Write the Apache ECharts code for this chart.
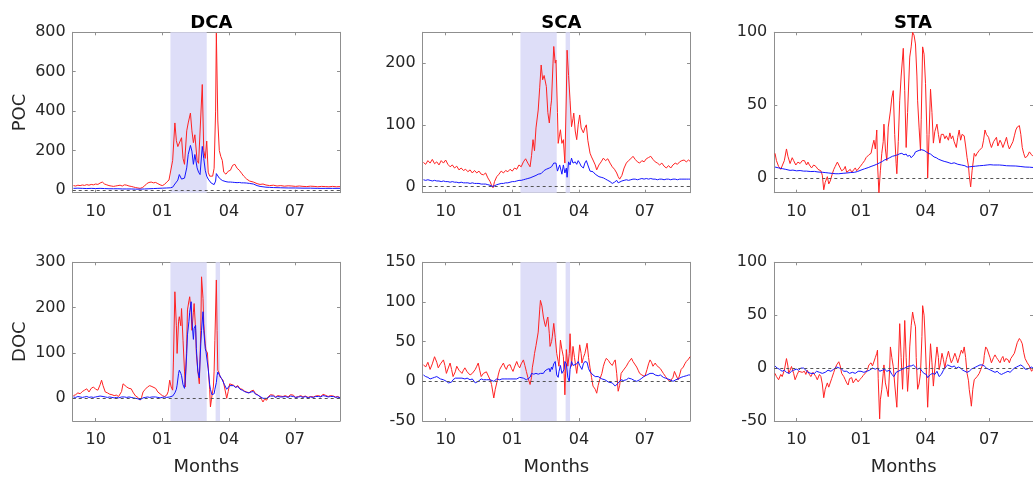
<!DOCTYPE html>
<html><head><meta charset="utf-8">
<script src="https://cdn.jsdelivr.net/npm/echarts@6/dist/echarts.min.js"></script>
<style>html,body{margin:0;padding:0;background:#fff}#c{width:1033px;height:477px}</style>
</head><body><div id="c"></div>
<script>
// ---- axis / label data ----
const monthTickDays = [30, 120, 210, 299];
const monthTickLabels = ['10', '01', '04', '07'];
const panelTitles = ['DCA', 'SCA', 'STA'];
const rowNames = ['POC', 'DOC'];
const xName = 'Months';
const yTicksDcaPoc = [0, 200, 400, 600, 800];
const yTicksScaPoc = [0, 100, 200];
const yTicksStaPoc = [0, 50, 100];
const yTicksDcaDoc = [0, 100, 200, 300];
const yTicksScaDoc = [-50, 0, 50, 100, 150];
const yTicksStaDoc = [-50, 0, 50, 100];
const bandsMain = [[131, 180]];
const bandsBoth = [[131, 180], [192, 198]];

// ---- series data: [day index, value] ----
const dcaPocRed = [[0,22],[3,20],[6,24],[9,22],[12,25],[15,23],[18,27],[21,24],[24,28],[27,26],[30,30],[33,28],[36,35],[39,40],[42,30],[45,26],[48,22],[51,20],[54,18],[57,20],[60,22],[63,24],[66,20],[69,26],[72,24],[75,20],[78,18],[81,15],[84,12],[87,10],[90,8],[93,12],[96,20],[99,32],[102,38],[105,40],[108,36],[111,38],[114,32],[117,26],[120,22],[123,28],[126,40],[129,50],[131,55],[134,150],[137,340],[139,250],[141,220],[143,238],[146,265],[148,160],[150,130],[153,300],[155,340],[158,390],[160,300],[162,240],[164,280],[167,150],[169,135],[171,125],[174,535],[176,200],[178,160],[180,248],[182,90],[184,70],[186,60],[188,70],[190,110],[192,400],[193,796],[195,350],[197,200],[199,170],[201,150],[203,90],[206,80],[209,95],[212,100],[215,125],[218,130],[221,110],[224,100],[227,85],[230,70],[234,55],[238,45],[243,40],[248,32],[252,28],[256,30],[260,25],[265,22],[270,24],[275,20],[280,22],[285,19],[290,21],[295,20],[300,18],[305,20],[310,18],[315,17],[320,19],[325,18],[330,16],[335,18],[340,17],[345,16],[350,18],[355,16],[360,17]];
const dcaPocBlue = [[0,8],[6,9],[12,8],[18,7],[24,8],[30,7],[36,8],[42,7],[48,6],[54,6],[60,6],[66,5],[72,5],[78,5],[84,4],[90,4],[96,5],[102,6],[108,7],[114,8],[120,9],[126,10],[131,11],[134,14],[137,30],[139,35],[141,50],[143,78],[146,55],[148,45],[150,60],[153,112],[155,180],[158,226],[160,197],[162,130],[164,180],[167,112],[169,90],[171,78],[174,221],[176,160],[178,100],[180,70],[182,55],[184,45],[186,35],[188,30],[190,27],[192,45],[193,83],[195,75],[197,60],[199,55],[201,48],[203,44],[206,42],[209,40],[212,40],[215,39],[218,38],[221,37],[224,38],[227,36],[230,36],[234,35],[238,33],[243,30],[248,22],[252,18],[256,16],[260,14],[265,13],[270,12],[280,11],[290,10],[300,10],[310,9],[320,9],[330,8],[340,8],[350,8],[360,8]];

const scaPocRed = [[0,39],[3,36],[6,42],[9,38],[12,44],[15,37],[18,40],[21,35],[24,42],[27,38],[30,43],[33,36],[36,32],[39,35],[42,30],[45,33],[48,27],[51,30],[54,26],[57,28],[60,24],[63,27],[66,22],[69,26],[72,22],[75,25],[78,20],[81,19],[84,22],[87,14],[90,8],[92,2],[94,-2],[96,8],[99,16],[102,20],[105,25],[108,22],[111,26],[114,24],[117,28],[120,25],[123,30],[126,28],[129,35],[132,32],[135,40],[138,45],[141,38],[144,32],[146,50],[148,76],[150,58],[152,95],[155,124],[157,160],[159,197],[161,173],[163,180],[166,162],[168,120],[170,103],[172,130],[173,140],[175,200],[176,227],[178,200],[179,205],[181,120],[182,70],[184,85],[185,92],[187,70],[189,76],[191,38],[193,150],[194,221],[196,180],[198,140],[200,97],[202,110],[203,119],[205,90],[207,76],[209,100],[211,116],[213,95],[216,87],[218,95],[220,100],[222,75],[225,54],[227,48],[229,43],[232,35],[234,27],[237,35],[240,40],[243,46],[246,42],[249,45],[252,38],[255,32],[258,28],[261,22],[263,16],[265,12],[268,18],[271,30],[274,38],[277,42],[280,45],[283,49],[286,44],[289,40],[292,38],[295,42],[298,40],[301,45],[304,47],[307,49],[310,44],[313,40],[316,38],[319,35],[322,38],[325,33],[328,30],[331,34],[334,30],[337,35],[340,38],[343,36],[346,40],[349,42],[352,43],[355,40],[358,43],[360,41]];
const scaPocBlue = [[0,11],[3,10],[6,11],[9,10],[12,9],[15,10],[18,9],[21,9],[24,8],[27,9],[30,8],[33,8],[36,7],[39,8],[42,7],[45,7],[48,6],[51,7],[54,6],[57,6],[60,6],[63,5],[66,6],[69,5],[72,5],[75,5],[78,4],[81,4],[84,4],[87,3],[90,2],[92,1],[94,0],[96,2],[99,3],[102,4],[105,5],[108,5],[111,6],[114,6],[117,7],[120,8],[123,8],[126,9],[129,10],[132,10],[135,11],[138,12],[141,13],[144,14],[146,15],[148,16],[150,17],[152,18],[155,20],[157,22],[159,21],[161,24],[163,26],[166,28],[168,25],[170,30],[172,28],[173,32],[175,35],[176,38],[178,40],[179,38],[181,25],[182,28],[184,35],[185,30],[187,20],[189,35],[191,22],[193,30],[194,15],[196,40],[198,35],[200,46],[202,38],[203,35],[205,40],[207,36],[209,42],[211,38],[213,33],[216,30],[218,38],[220,42],[222,35],[225,25],[227,22],[229,24],[232,20],[234,18],[237,16],[240,15],[243,14],[246,12],[249,10],[252,8],[255,5],[258,7],[261,10],[263,6],[265,8],[268,9],[271,10],[274,11],[277,10],[280,11],[283,12],[286,12],[289,11],[292,12],[295,13],[298,12],[301,13],[304,12],[307,13],[310,12],[313,12],[316,11],[319,12],[322,12],[325,11],[328,12],[331,12],[334,11],[337,12],[340,12],[343,11],[346,12],[349,12],[352,12],[355,12],[358,12],[360,12]];

const staPocRed = [[0,17],[2,12],[5,8],[8,6],[10,5],[13,12],[16,20],[18,15],[21,10],[24,14],[26,12],[29,9],[32,11],[35,10],[38,12],[41,12],[44,9],[46,11],[48,9],[51,7],[54,9],[57,8],[60,6],[62,7],[64,5],[66,2],[68,-8],[70,-3],[73,1],[75,-4],[77,-2],[80,3],[82,6],[84,8],[87,11],[89,10],[91,7],[93,5],[96,6],[98,8],[100,4],[102,3],[105,6],[107,4],[109,5],[112,7],[114,5],[116,6],[119,8],[122,10],[125,12],[127,14],[129,13],[131,16],[134,17],[136,22],[138,26],[140,20],[142,33],[143,10],[145,-10],[147,5],[149,17],[151,25],[152,37],[154,20],[156,12],[158,35],[161,46],[163,55],[165,60],[167,30],[169,10],[170,3],[172,25],[174,53],[176,70],[179,89],[181,60],[183,21],[185,45],[188,83],[190,90],[192,100],[194,98],[196,92],[198,70],[199,53],[201,35],[203,19],[204,40],[206,90],[208,85],[210,65],[212,30],[213,0],[215,30],[217,61],[219,45],[221,24],[223,32],[226,37],[228,30],[230,24],[232,30],[235,30],[237,27],[239,29],[242,26],[244,31],[246,27],[248,29],[250,25],[253,21],[255,28],[257,33],[259,26],[261,30],[264,29],[266,22],[268,14],[270,8],[271,2],[273,-6],[275,5],[278,17],[280,15],[282,17],[285,19],[287,20],[289,21],[291,26],[293,33],[295,30],[298,28],[300,24],[302,21],[305,25],[307,24],[309,28],[311,22],[314,26],[316,24],[318,21],[321,25],[323,28],[325,23],[327,20],[329,19],[332,25],[334,29],[336,33],[338,35],[341,36],[343,30],[345,21],[347,17],[349,14],[352,15],[355,18],[358,16],[360,15]];
const staPocBlue = [[0,7.6],[5,7],[10,6.5],[15,6],[21,5.3],[25,5.5],[30,5],[35,5.2],[40,4.8],[44,4.8],[50,4.5],[55,4.6],[60,4.2],[66,4],[70,3.8],[75,3.5],[80,3.2],[85,3],[89,3],[95,3.3],[100,3.5],[105,3.8],[111,4],[115,4.5],[120,5.5],[125,6.4],[130,7.2],[134,8],[138,8.7],[142,9.5],[146,10.5],[150,11.5],[153,12.5],[156,13],[160,14],[164,15],[168,15.5],[171,16],[174,16.7],[177,17],[180,16],[183,16.5],[185,15],[188,15.6],[190,14],[192,14],[194,16],[196,18],[198,18.5],[201,19],[204,19.5],[206,19.5],[208,19],[211,18],[214,17],[217,16.5],[219,15.6],[222,14.5],[225,14],[228,13],[230,12.5],[233,12],[236,11.5],[240,11],[243,10.5],[246,10],[250,10.5],[255,9.5],[260,9],[265,8.5],[268,7.6],[272,7.8],[276,8],[280,8.2],[285,8.5],[291,8.7],[296,9],[300,9.2],[305,9],[310,9],[313,9],[318,8.8],[323,8.5],[328,8.4],[336,8.3],[342,8],[349,7.6],[355,7.5],[360,7.3]];

const dcaDocRed = [[0,6],[3,8],[6,12],[9,10],[12,15],[15,18],[18,21],[21,14],[24,22],[27,25],[30,20],[33,18],[36,30],[38,40],[40,28],[43,14],[46,12],[49,9],[52,8],[55,6],[58,7],[61,4],[63,3],[65,15],[67,32],[69,28],[72,25],[75,22],[78,21],[81,12],[84,5],[87,2],[90,-4],[92,2],[94,14],[97,20],[100,25],[103,28],[106,26],[108,29],[111,22],[114,14],[117,10],[120,6],[123,4],[126,7],[128,15],[130,40],[132,25],[134,18],[135,80],[137,235],[139,160],[140,99],[142,170],[143,180],[145,160],[146,198],[148,128],[150,60],[151,25],[153,120],[154,195],[156,215],[157,224],[159,190],[160,150],[162,190],[163,209],[165,150],[166,99],[168,60],[170,32],[172,150],[173,268],[175,220],[176,165],[178,120],[179,106],[181,100],[182,69],[184,20],[185,-19],[187,5],[189,25],[190,60],[191,128],[193,261],[194,150],[195,62],[197,55],[198,47],[200,44],[202,40],[204,25],[207,0],[209,15],[211,32],[213,30],[216,29],[219,25],[222,28],[225,21],[228,20],[231,16],[234,14],[237,12],[240,16],[243,18],[246,10],[249,8],[252,3],[254,-2],[256,-8],[258,-2],[261,-4],[263,3],[266,8],[268,6],[270,7],[273,3],[276,6],[279,5],[283,4],[286,6],[290,3],[293,8],[297,7],[300,2],[304,4],[307,6],[310,3],[313,5],[317,2],[320,4],[324,3],[327,5],[331,6],[334,4],[337,9],[340,7],[344,4],[347,6],[351,5],[354,3],[357,4],[360,1.5]];
const dcaDocBlue = [[0,3],[3,2],[6,4],[9,3],[12,2],[15,3],[18,4],[21,2],[24,3],[27,2],[30,3],[33,4],[36,5],[38,6],[40,4],[43,3],[46,2],[49,3],[52,2],[55,1],[58,2],[61,1],[63,2],[65,3],[67,4],[69,3],[72,2],[75,3],[78,2],[81,1],[84,0],[87,-1],[90,-3],[92,-1],[94,1],[97,2],[100,3],[103,2],[106,3],[108,2],[111,3],[114,2],[117,1],[120,2],[123,3],[126,2],[128,3],[130,3],[132,4],[134,5],[135,8],[137,12],[139,20],[140,29],[142,55],[143,62],[145,55],[146,50],[148,30],[150,22],[151,40],[153,99],[154,140],[156,170],[157,190],[159,213],[160,170],[162,130],[163,155],[165,161],[166,110],[168,60],[170,45],[172,120],[173,150],[175,191],[176,150],[178,110],[179,103],[181,100],[182,65],[184,30],[185,20],[187,8],[189,5],[190,10],[191,20],[193,35],[194,50],[195,58],[197,52],[198,48],[200,44],[202,40],[204,30],[207,20],[209,18],[211,28],[213,30],[216,28],[219,24],[222,26],[225,20],[228,18],[231,15],[234,13],[237,12],[240,14],[243,15],[246,9],[249,7],[252,4],[254,2],[256,0],[258,1],[261,0],[263,3],[266,5],[268,4],[270,5],[273,2],[276,4],[279,3],[283,3],[286,4],[290,2],[293,5],[297,4],[300,2],[304,3],[307,4],[310,2],[313,4],[317,1],[320,3],[324,2],[327,4],[331,4],[334,3],[337,6],[340,5],[344,3],[347,4],[351,4],[354,2],[357,3],[360,1]];

const scaDocRed = [[0,21],[3,18],[6,24],[9,15],[12,22],[15,31],[18,24],[20,17],[23,22],[27,27],[29,20],[31,10],[34,18],[36,23],[38,15],[40,6],[43,12],[45,19],[48,14],[50,16],[52,10],[54,14],[56,17],[59,12],[61,14],[63,8],[66,10],[68,12],[70,15],[72,19],[74,23],[76,14],[78,6],[81,10],[83,8],[85,12],[87,10],[90,2],[92,-4],[95,-21],[97,-10],[99,-2],[101,8],[103,15],[106,20],[108,23],[110,18],[112,15],[114,20],[117,21],[119,16],[121,12.5],[123,18],[126,25],[128,20],[130,17],[132,22],[135,27],[137,20],[139,12.5],[141,5],[144,-4],[146,5],[147,17],[149,28],[150,35],[152,45],[155,62],[157,90],[158,102],[160,95],[162,81],[164,72],[165,69],[167,78],[168,81],[170,60],[171,44],[173,50],[174,56],[176,73],[178,55],[180,35],[182,25],[183,19],[185,52],[187,40],[189,31],[190,10],[191,-17],[193,40],[195,19],[197,35],[198,60],[200,19],[202,44],[204,30],[207,10],[209,25],[211,46],[213,35],[214,23],[216,30],[218,35],[221,48],[223,30],[225,17],[227,5],[229,-6],[232,-10],[234,-15],[236,-5],[238,2],[241,10],[243,19],[245,25],[247,29],[250,26],[252,23],[255,20],[257,24],[259,27],[261,10],[263,-12.5],[265,-5],[267,10],[270,14],[272,16],[274,19],[277,24],[279,26],[281,29],[283,25],[285,23],[288,18],[290,14],[292,10],[295,8],[297,7],[299,6],[302,15],[304,22],[306,27],[308,24],[310,19],[313,23],[315,20],[317,19],[320,16],[322,14],[324,10],[327,6],[330,2],[333,0],[335,-2],[337,5],[339,12.5],[341,8],[344,2],[346,8],[348,15],[351,18],[353,22],[355,25],[358,28],[360,31]];
const scaDocBlue = [[0,8],[3,6],[6,5],[9,3],[12,4],[15,5],[18,6],[20,4],[23,3],[27,2],[29,3],[31,0],[34,-2],[36,-4],[38,-1],[40,2],[43,4],[45,5],[48,4],[50,3],[52,4],[54,2],[56,3],[59,4],[61,3],[63,2],[66,3],[68,1],[70,-2],[72,-3],[74,0],[76,2],[78,3],[81,2],[83,3],[85,2],[87,3],[90,2],[92,1],[95,0],[97,2],[99,3],[101,3],[103,2],[106,3],[108,4],[110,3],[112,2],[114,3],[117,3],[119,2],[121,3],[123,2],[126,3],[128,4],[130,5],[132,6],[135,4],[137,3],[139,2],[141,3],[144,5],[146,10],[147,8],[149,9],[150,8],[152,10],[155,9],[157,11],[158,10],[160,12],[162,10],[164,13],[165,12],[167,15],[168,14],[170,16],[171,12],[173,18],[174,15],[176,22],[178,25],[180,8],[182,5],[183,12],[185,20],[187,10],[189,8],[190,15],[191,25],[193,22],[195,5],[197,0],[198,15],[200,25],[202,20],[204,18],[207,22],[209,25],[211,20],[213,18],[214,15],[216,22],[218,25],[221,24],[223,16],[225,12],[227,10],[229,8],[232,6],[234,5],[236,6],[238,4],[241,3],[243,4],[245,2],[247,0],[250,-1],[252,0],[255,-2],[257,-4],[259,-6],[261,-4],[263,-2],[265,0],[267,2],[270,1],[272,3],[274,2],[277,4],[279,5],[281,3],[283,2],[285,1],[288,0],[290,0],[292,2],[295,4],[297,5],[299,7],[302,8],[304,9],[306,10],[308,9],[310,10],[313,8],[315,9],[317,7],[320,8],[322,6],[324,5],[327,4],[330,3],[333,2],[335,0],[337,0],[339,1],[341,2],[344,3],[346,4],[348,5],[351,6],[353,7],[355,7],[358,8],[360,8]];

const staDocRed = [[0,-5],[2,-8],[5,-11],[8,-6],[10,-8],[13,-2],[16,9],[18,2],[19,-5],[21,-2],[23,1.5],[26,-5],[28,-11],[31,-6],[33,-3],[35,-1.5],[38,-4],[41,-3],[43,-6],[45,-2],[48,-6],[50,-8],[53,-4],[55,-5],[57,-8],[59,-11],[62,-6],[64,-8],[66,-15],[68,-28],[70,-20],[73,-14],[75,-18],[77,-17],[79,-10],[82,-4],[84,0],[86,3],[89,6],[91,2],[93,-5],[96,-8],[98,-11],[100,-14],[102,-16],[104,-10],[107,-9],[109,-14],[111,-12.5],[113,-10],[116,-13],[118,-11],[121,-9],[123,-7],[125,-8],[127,-4],[129,-1.5],[131,3],[134,5],[136,2],[138,3],[140,10],[142,14],[143,17],[144,-10],[146,-48],[147,-30],[149,-20],[151,-5],[152,3],[154,-14],[156,-20],[158,-27],[160,0],[161,20],[163,10],[165,1.5],[167,-15],[170,-37],[172,0],[174,42],[176,10],[178,-20],[180,20],[181,45],[183,10],[185,-22],[187,0],[188,20],[190,40],[192,53],[194,45],[196,39],[197,10],[199,-20],[201,-15],[203,-5],[205,30],[206,59],[208,50],[209,36],[211,0],[213,-37],[215,-5],[217,23],[219,5],[221,-17],[223,0],[226,20],[228,10],[229,-1.5],[231,5],[233,14],[235,8],[237,0],[239,8],[242,16],[244,10],[246,5],[248,8],[251,14],[253,10],[255,5],[257,10],[260,17],[262,14],[264,20],[266,10],[268,-5],[270,-12],[271,-20],[273,-30],[274,-36],[276,-20],[278,-11],[280,-10],[282,-8],[285,-5],[287,-1.5],[289,2],[291,5],[292,12],[294,20],[296,18],[298,17],[300,10],[302,5],[305,10],[307,12.5],[309,10],[311,8],[314,5],[316,9],[318,11],[320,6],[322,9],[325,8],[327,5],[329,9],[331,9],[334,14],[336,19],[338,24],[341,28],[343,26],[345,23],[347,15],[349,9],[352,5],[355,2],[358,-3],[360,-1]];
const staDocBlue = [[0,2],[3,0],[6,-1],[10,-3],[13,-2],[16,-4],[20,-5],[23,-3],[26,-2],[30,-1],[33,-2],[36,0],[40,0],[43,-2],[46,-4],[50,-5],[55,-5],[58,-3],[62,-4],[66,-5],[70,-4],[74,-2],[78,-3],[82,-1],[86,1],[90,0],[93,-1],[96,-3],[100,-3],[104,-5],[108,-4],[112,-5],[116,-3],[120,-3],[124,-4],[128,-3],[132,-2],[136,0],[140,-1],[143,0],[146,-3],[150,-2],[153,-1],[156,-3],[160,-2],[163,-6],[166,-8],[169,-4],[172,-3],[175,-2],[178,-1],[181,0],[184,1],[187,2],[190,2],[193,3],[196,1],[199,-1],[202,0],[205,-3],[208,-5],[211,-6],[213,-9],[215,-10],[217,-6],[220,-5],[223,-6],[226,-3],[229,-8],[232,-6],[235,-2],[238,1],[241,3],[244,2],[247,1],[250,2],[253,0],[256,1],[259,0],[262,-2],[265,-3],[268,-4],[271,-3],[274,-1],[277,0],[280,1],[283,2],[286,3],[289,3],[292,2],[295,0],[298,-1],[301,-2],[304,-3],[307,-4],[310,-3],[313,-5],[316,-6],[319,-5],[322,-4],[325,-3],[328,-4],[331,-2],[334,0],[337,1],[340,2],[343,3],[345,3],[347,1],[349,-1],[352,-1],[355,0],[358,1],[360,0]];

// ---- layout & style ----
const FONT = 'DejaVu Sans';
const colLeft = [72.7, 422.7, 774.3];
const plotW = 267.3;
const rowTop = [32.3, 262.3];
const rowH = [160.4, 159.2];
const AXIS_COLOR = '#8f8f8f';
const TEXT_COLOR = '#262626';

const panels = [
  {row:0,col:0,yMin:-14,yMax:800,yTicks:yTicksDcaPoc,red:dcaPocRed,blue:dcaPocBlue,bands:bandsMain},
  {row:0,col:1,yMin:-10,yMax:250,yTicks:yTicksScaPoc,red:scaPocRed,blue:scaPocBlue,bands:bandsBoth},
  {row:0,col:2,yMin:-10,yMax:100,yTicks:yTicksStaPoc,red:staPocRed,blue:staPocBlue,bands:[]},
  {row:1,col:0,yMin:-50,yMax:300,yTicks:yTicksDcaDoc,red:dcaDocRed,blue:dcaDocBlue,bands:bandsBoth},
  {row:1,col:1,yMin:-50,yMax:150,yTicks:yTicksScaDoc,red:scaDocRed,blue:scaDocBlue,bands:bandsBoth},
  {row:1,col:2,yMin:-50,yMax:100,yTicks:yTicksStaDoc,red:staDocRed,blue:staDocBlue,bands:[]}
];

const grid = [], xAxis = [], yAxis = [], series = [], title = [];
panelTitles.forEach((t, c) => {
  title.push({text: t, left: colLeft[c] + plotW / 2, top: 9, textAlign: 'center',
    textStyle: {fontFamily: FONT, fontSize: 18, fontWeight: 'bold', color: '#000'}});
});

panels.forEach((p, i) => {
  grid.push({left: colLeft[p.col], top: rowTop[p.row], width: plotW, height: rowH[p.row], containLabel: false});
  const line = {show: true, onZero: false, lineStyle: {color: AXIS_COLOR, width: 1}};
  const tick = vals => ({show: true, inside: true, length: 3, customValues: vals, lineStyle: {color: AXIS_COLOR, width: 1}});
  const lab = {fontFamily: FONT, fontSize: 16, color: TEXT_COLOR};
  xAxis.push({type: 'value', gridIndex: i, position: 'bottom', min: -1, max: 360,
    axisLine: line, axisTick: tick(monthTickDays), splitLine: {show: false},
    axisLabel: Object.assign({customValues: monthTickDays, margin: 11,
      formatter: v => monthTickLabels[monthTickDays.indexOf(v)]}, lab),
    name: p.row === 1 ? xName : '', nameLocation: 'middle', nameGap: 37,
    nameTextStyle: {fontFamily: FONT, fontSize: 18, color: TEXT_COLOR}});
  xAxis.push({type: 'value', gridIndex: i, position: 'top', min: -1, max: 360,
    axisLine: line, axisTick: tick(monthTickDays), splitLine: {show: false}, axisLabel: {show: false}});
  yAxis.push({type: 'value', gridIndex: i, position: 'left', min: p.yMin, max: p.yMax,
    axisLine: line, axisTick: tick(p.yTicks), splitLine: {show: false},
    axisLabel: Object.assign({customValues: p.yTicks, margin: 7}, lab),
    name: p.col === 0 ? rowNames[p.row] : '', nameLocation: 'middle', nameGap: 43,
    nameTextStyle: {fontFamily: FONT, fontSize: 18, color: TEXT_COLOR}});
  yAxis.push({type: 'value', gridIndex: i, position: 'right', min: p.yMin, max: p.yMax,
    axisLine: line, axisTick: tick(p.yTicks), splitLine: {show: false}, axisLabel: {show: false}});
  const xi = 2 * i, yi = 2 * i;
  series.push({type: 'line', xAxisIndex: xi, yAxisIndex: yi, data: [[p.red[0][0], 0]], symbol: 'none',
    lineStyle: {width: 0, opacity: 0}, z: 1, silent: true,
    markArea: {silent: true, itemStyle: {color: '#dedef8', opacity: 1},
      data: p.bands.map(b => [{xAxis: b[0]}, {xAxis: b[1]}])},
    markLine: {silent: true, symbol: ['none', 'none'], label: {show: false},
      lineStyle: {type: [3, 3], color: '#555', width: 1}, data: [{yAxis: 0}]}});
  series.push({type: 'line', xAxisIndex: xi, yAxisIndex: yi, data: p.red, symbol: 'none', showSymbol: false,
    lineStyle: {color: '#f22', width: 1}, z: 3, silent: true});
  series.push({type: 'line', xAxisIndex: xi, yAxisIndex: yi, data: p.blue, symbol: 'none', showSymbol: false,
    lineStyle: {color: '#1515ff', width: 1}, z: 4, silent: true});
});

const chart = echarts.init(document.getElementById('c'), null, {renderer: 'canvas'});
chart.setOption({animation: false, backgroundColor: '#fff', title, grid, xAxis, yAxis, series});
</script></body></html>
